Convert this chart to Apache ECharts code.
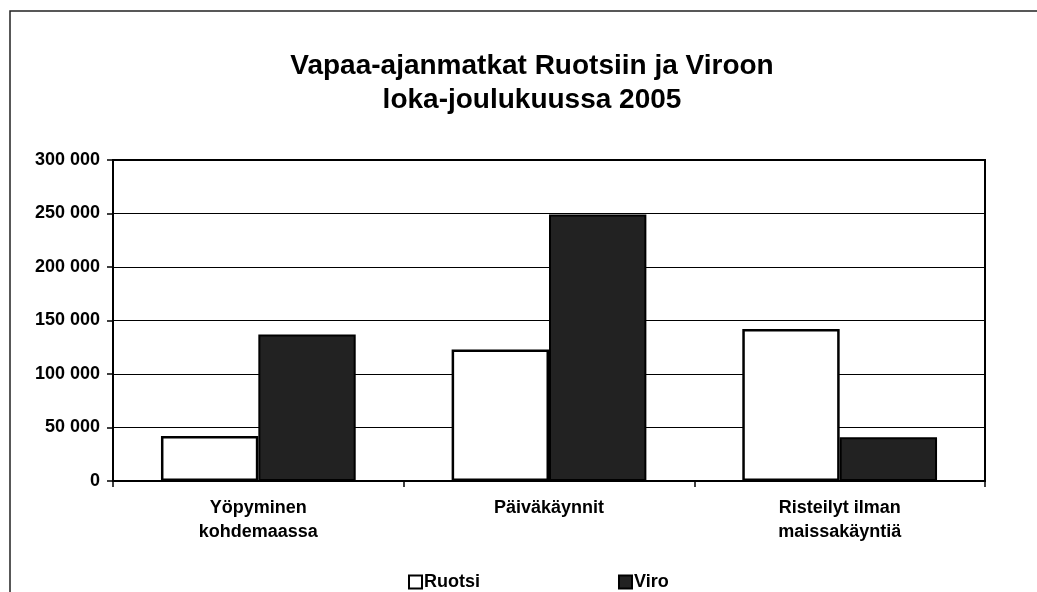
<!DOCTYPE html>
<html>
<head>
<meta charset="utf-8">
<script src="https://cdn.jsdelivr.net/npm/echarts@6/dist/echarts.min.js"></script>
<style>
html,body{margin:0;padding:0;background:#fff;}
#chart{width:1037px;height:592px;}
</style>
</head>
<body>
<div id="chart"></div>
<script>
const titleText = 'Vapaa-ajanmatkat Ruotsiin ja Viroon\nloka-joulukuussa 2005';
const categories = ['Yöpyminen\nkohdemaassa', 'Päiväkäynnit', 'Risteilyt ilman\nmaissakäyntiä'];
const seriesNames = ['Ruotsi', 'Viro'];
const ruotsi = [42000, 123000, 142000];
const viro = [137000, 249000, 41000];

const FONT = '"Liberation Sans", Arial, sans-serif';
const chart = echarts.init(document.getElementById('chart'), null, {renderer: 'canvas'});
chart.setOption({
  backgroundColor: '#fff',
  animation: false,
  title: {
    text: titleText,
    left: 527,
    top: 44,
    textAlign: 'center',
    textStyle: {fontFamily: FONT, fontSize: 28, fontWeight: 'bold', color: '#000', lineHeight: 34}
  },
  graphic: [
    {type: 'polyline', shape: {points: [[10, 592], [10, 11], [1037, 11]]}, style: {stroke: '#222', lineWidth: 1.5, fill: null}}
  ],
  legend: {
    data: seriesNames,
    left: 403,
    top: 568,
    itemWidth: 13,
    itemHeight: 13,
    itemGap: 138,
    icon: 'rect',
    textStyle: {fontFamily: FONT, fontSize: 18, fontWeight: 'bold', color: '#000', padding: [0, 0, 0, -3]}
  },
  grid: {
    left: 113, right: 52, top: 160, bottom: 111,
    show: true, borderColor: '#000', borderWidth: 2, backgroundColor: 'transparent',
    containLabel: false
  },
  xAxis: {
    type: 'category',
    data: categories,
    axisLine: {lineStyle: {color: '#000', width: 2}},
    axisTick: {show: true, length: 6, lineStyle: {color: '#000', width: 1.5}},
    axisLabel: {fontFamily: FONT, fontSize: 18, fontWeight: 'bold', color: '#000', lineHeight: 24, margin: 15}
  },
  yAxis: {
    type: 'value',
    min: 0, max: 300000, interval: 50000,
    axisLine: {show: true, lineStyle: {color: '#000', width: 2}},
    axisTick: {show: true, length: 6, lineStyle: {color: '#000', width: 1.5}},
    splitLine: {show: true, lineStyle: {color: '#000', width: 1}},
    axisLabel: {
      fontFamily: FONT, fontSize: 18, fontWeight: 'bold', color: '#000', margin: 13,
      formatter: v => String(v).replace(/\B(?=(\d{3})+(?!\d))/g, ' ')
    }
  },
  series: [
    {
      name: seriesNames[0], type: 'bar', data: ruotsi,
      barGap: '0%', barCategoryGap: '33%',
      itemStyle: {color: '#fff', borderColor: '#000', borderWidth: 2.5}
    },
    {
      name: seriesNames[1], type: 'bar', data: viro,
      barGap: '0%', barCategoryGap: '33%',
      itemStyle: {color: '#222', borderColor: '#000', borderWidth: 2}
    }
  ]
});
</script>
</body>
</html>
